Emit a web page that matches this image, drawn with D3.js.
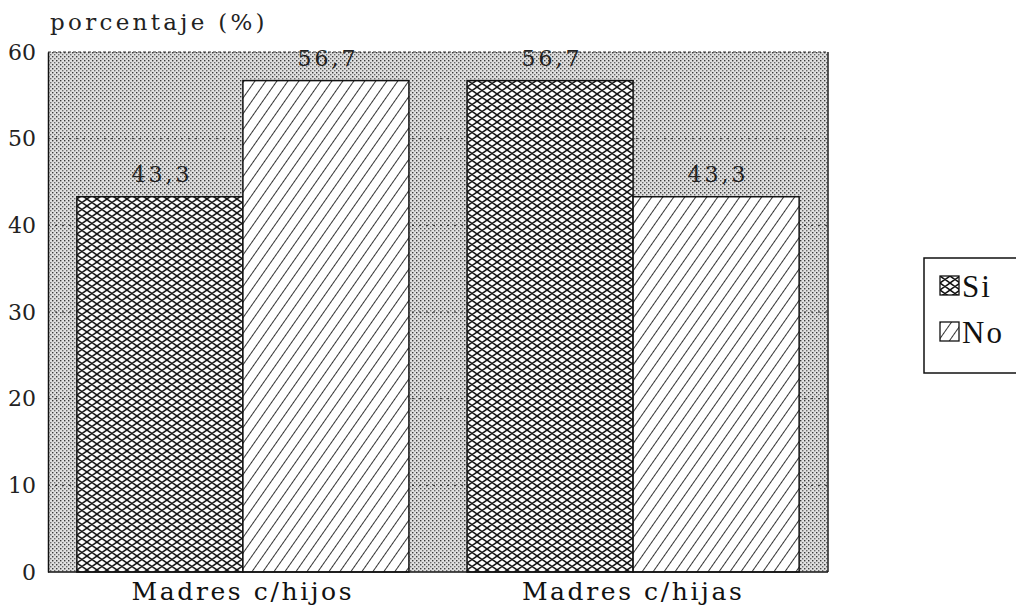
<!DOCTYPE html>
<html lang="es">
<head>
<meta charset="UTF-8">
<script src="https://d3js.org/d3.v7.min.js"></script>
<title>Madres c/hijos y c/hijas</title>
<style>
    body { margin: 0; background: #fff; }
    svg { font-family: "DejaVu Serif", serif; }
</style>
</head>
<body>
<svg id="chart" width="1016" height="615"></svg>
<script>
    const groups = ["Madres c/hijos", "Madres c/hijas"];
    const series = ["Si", "No"];
    const valuesSi = [43.3, 56.7];
    const valuesNo = [56.7, 43.3];
    const yTicks = [0, 10, 20, 30, 40, 50, 60];

    const svg = d3.select("#chart");
    const margin = {left: 48, right: 188, top: 52, bottom: 43};
    const width = 1016 - margin.left - margin.right;
    const height = 615 - margin.top - margin.bottom;

    const defs = svg.append("defs");

    // stippled background
    const dots = defs.append("pattern").attr("id", "dots")
        .attr("patternUnits", "userSpaceOnUse").attr("width", 4).attr("height", 4);
    dots.append("rect").attr("width", 4).attr("height", 4).attr("fill", "#e0e0e0");
    dots.append("rect").attr("x", 0).attr("y", 0).attr("width", 1.4).attr("height", 1.4).attr("fill", "#3a3a3a");
    dots.append("rect").attr("x", 2).attr("y", 2).attr("width", 1.4).attr("height", 1.4).attr("fill", "#6a6a6a");

    // crosshatch for Si
    const cross = defs.append("pattern").attr("id", "cross")
        .attr("patternUnits", "userSpaceOnUse").attr("width", 10).attr("height", 7);
    cross.append("rect").attr("width", 10).attr("height", 7).attr("fill", "#fff");
    cross.append("path").attr("d", "M0,0 L5,3.5 L10,0 M0,7 L5,3.5 L10,7")
        .attr("stroke", "#111").attr("stroke-width", 1.5).attr("fill", "none");

    // diagonal hatch for No
    const hatch = defs.append("pattern").attr("id", "hatch")
        .attr("patternUnits", "userSpaceOnUse").attr("width", 9).attr("height", 9)
        .attr("patternTransform", "rotate(35)");
    hatch.append("rect").attr("width", 9).attr("height", 9).attr("fill", "#fff");
    hatch.append("line").attr("x1", 0).attr("y1", 0).attr("x2", 0).attr("y2", 9)
        .attr("stroke", "#111").attr("stroke-width", 1.7);

    const fills = {Si: "url(#cross)", No: "url(#hatch)"};

    const g = svg.append("g").attr("transform", `translate(${margin.left},${margin.top})`);

    const x0 = d3.scaleBand().domain(groups).range([0, width]).paddingInner(0.149).paddingOuter(0.074);
    const x1 = d3.scaleBand().domain(series).range([0, x0.bandwidth()]);
    const y = d3.scaleLinear().domain([0, 60]).range([height, 0]);

    g.append("rect").attr("width", width).attr("height", height).attr("fill", "url(#dots)");

    // dotted gridlines
    g.selectAll(".grid").data(yTicks.slice(1, -1)).enter().append("line")
        .attr("x1", 0).attr("x2", width)
        .attr("y1", d => y(d)).attr("y2", d => y(d))
        .attr("stroke", "#333").attr("stroke-width", 1).attr("stroke-dasharray", "2,5");

    const rows = groups.map((grp, i) => ({grp, vals: [
        {key: "Si", value: valuesSi[i]},
        {key: "No", value: valuesNo[i]}
    ]}));

    const grpSel = g.selectAll(".grp").data(rows).enter().append("g")
        .attr("transform", d => `translate(${x0(d.grp)},0)`);

    grpSel.selectAll("rect").data(d => d.vals).enter().append("rect")
        .attr("x", d => x1(d.key))
        .attr("y", d => y(d.value))
        .attr("width", x1.bandwidth())
        .attr("height", d => height - y(d.value))
        .attr("fill", d => fills[d.key])
        .attr("stroke", "#111").attr("stroke-width", 1.5);

    grpSel.selectAll(".val").data(d => d.vals).enter().append("text")
        .attr("x", d => x1(d.key) + x1.bandwidth() / 2 + 2)
        .attr("y", d => y(d.value) - 15)
        .attr("text-anchor", "middle")
        .attr("font-size", 22).attr("letter-spacing", 3).attr("fill", "#222")
        .text(d => String(d.value).replace(".", ","));

    // frame
    g.append("line").attr("x1", 0).attr("x2", width).attr("y1", 0).attr("y2", 0)
        .attr("stroke", "#333").attr("stroke-dasharray", "3,2");
    g.append("line").attr("x1", width).attr("x2", width).attr("y1", 0).attr("y2", height)
        .attr("stroke", "#222").attr("stroke-width", 1.5);
    g.append("line").attr("x1", 0).attr("x2", width).attr("y1", height).attr("y2", height)
        .attr("stroke", "#111").attr("stroke-width", 1.5);

    // y axis
    const yAxis = g.append("g").call(d3.axisLeft(y).tickValues(yTicks).tickSize(0).tickPadding(12));
    yAxis.select(".domain").attr("stroke", "#111").attr("stroke-width", 1.5);
    yAxis.selectAll("text").attr("font-size", 22).attr("font-family", "DejaVu Serif").attr("fill", "#222");

    // x axis labels
    const xAxis = g.append("g").attr("transform", `translate(0,${height})`)
        .call(d3.axisBottom(x0).tickSize(0).tickPadding(10));
    xAxis.select(".domain").remove();
    xAxis.selectAll("text").attr("font-size", 25).attr("letter-spacing", 2.6)
        .attr("font-family", "DejaVu Serif").attr("fill", "#111");

    svg.append("text").attr("x", 50).attr("y", 30)
        .attr("font-size", 23).attr("letter-spacing", 3.3).attr("fill", "#222")
        .text("porcentaje (%)");

    // legend
    const legend = svg.append("g").attr("transform", "translate(924,258)");
    legend.append("rect").attr("width", 110).attr("height", 115)
        .attr("fill", "#fff").attr("stroke", "#111").attr("stroke-width", 1.5);
    const items = legend.selectAll(".item").data(series).enter().append("g")
        .attr("transform", (d, i) => `translate(16,${18 + i * 46})`);
    items.append("rect").attr("width", 19).attr("height", 19)
        .attr("fill", d => fills[d]).attr("stroke", "#111").attr("stroke-width", 1.3);
    items.append("text").attr("x", 22).attr("y", 21)
        .attr("font-family", "Liberation Serif").attr("font-size", 31).attr("letter-spacing", 2)
        .attr("fill", "#111")
        .text(d => d);
</script>
</body>
</html>
